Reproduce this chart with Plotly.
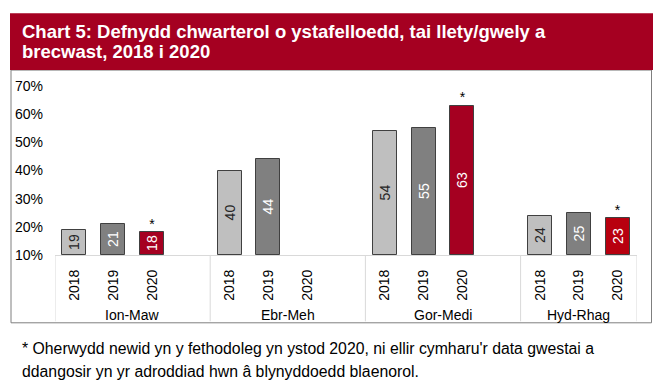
import plotly.graph_objects as go

# ---- data ----
quarters = ["Ion-Maw", "Ebr-Meh", "Gor-Medi", "Hyd-Rhag"]
years = ["2018", "2019", "2020"]
occ_2018 = [19, 40, 54, 24]
occ_2019 = [21, 44, 55, 25]
occ_2020 = [18, None, 63, 23]
flag_2020 = ["*", "", "*", "*"]
y_ticks = [10, 20, 30, 40, 50, 60, 70]

title_lines = ["Chart 5: Defnydd chwarterol o ystafelloedd, tai llety/gwely a",
               "brecwast, 2018 i 2020"]
note_lines = ["* Oherwydd newid yn y fethodoleg yn ystod 2020, ni ellir cymharu'r data gwestai a",
              "ddangosir yn yr adroddiad hwn â blynyddoedd blaenorol."]

# ---- styling ----
FONT = "Liberation Sans, Arial, sans-serif"
RED = "#A50021"
AXIS_MIN = y_ticks[0]
series = [
    (years[0], occ_2018, "#BFBFBF", "#262626"),
    (years[1], occ_2019, "#808080", "#FFFFFF"),
    (years[2], occ_2020, RED, "#FFFFFF"),
]
SLOTS = 4  # 3 years + blank gap per quarter

def pos(qi, yi):
    return qi * SLOTS + yi

fig = go.Figure()
for yi, (yr, vals, fill, tcol) in enumerate(series):
    xs = [pos(qi, yi) for qi in range(len(quarters))]
    fills = [fill] * len(vals)
    if yi == 2:
        fills[-1] = "#B8000F"
    fig.add_trace(go.Bar(
        x=xs,
        y=[None if v is None else v - AXIS_MIN for v in vals],
        base=AXIS_MIN, width=0.62, name=yr,
        marker=dict(color=fills, line=dict(color="#404040", width=1)),
        text=[("" if v is None else str(v)) for v in vals],
        textposition="inside", insidetextanchor="middle", textangle=-90,
        textfont=dict(family=FONT, size=14, color=tcol),
        showlegend=False,
    ))

# asterisks above 2020 bars
fig.add_trace(go.Scatter(
    x=[pos(qi, 2) for qi in range(len(quarters))],
    y=occ_2020,
    mode="text", text=flag_2020, textposition="top center",
    textfont=dict(family=FONT, size=14, color="#000000"),
    showlegend=False, cliponaxis=False,
))

tickvals, ticktext = [], []
for qi in range(len(quarters)):
    for yi, yr in enumerate(years):
        tickvals.append(pos(qi, yi))
        ticktext.append(yr)

x_min, x_max = -0.5, 14.5
L, R, T, B = 55, 27, 86, 135.5
W, H = 664, 391
pw = W - L - R
ph = H - T - B

def px_x(p):
    return (p - L) / pw

def px_y(p):
    return (H - B - p) / ph

shapes = []
# outer chart box
shapes.append(dict(type="rect", xref="paper", yref="paper",
                   x0=px_x(11), x1=px_x(651.5), y0=px_y(323.5), y1=px_y(70),
                   line=dict(color="#7F7F7F", width=1), fillcolor="rgba(0,0,0,0)"))
# title bar
shapes.append(dict(type="rect", xref="paper", yref="paper",
                   x0=px_x(10), x1=px_x(653), y0=px_y(70), y1=px_y(13),
                   line=dict(width=0), fillcolor=RED))
# category separators
for sx in [-0.5, 3.5, 7.5, 11.5, 14.5]:
    shapes.append(dict(type="line", xref="x", yref="paper",
                       x0=sx, x1=sx, y0=0, y1=px_y(322),
                       line=dict(color="#D9D9D9", width=1)))

annotations = []
for qi, q in enumerate(quarters):
    lo = qi * SLOTS - 0.5
    hi = min(lo + SLOTS, x_max)
    annotations.append(dict(x=(lo + hi) / 2, y=px_y(316), xref="x", yref="paper",
                            text=q, showarrow=False, xanchor="center", yanchor="middle",
                            font=dict(family=FONT, size=14, color="#000000")))
for line, yc in zip(title_lines, [31, 51]):
    annotations.append(dict(x=px_x(20), y=px_y(yc), xref="paper", yref="paper",
                            text="<b>" + line + "</b>", showarrow=False,
                            xanchor="left", yanchor="middle",
                            font=dict(family=FONT, size=18.5, color="#FFFFFF")))
for line, yc in zip(note_lines, [349, 372]):
    annotations.append(dict(x=px_x(20), y=px_y(yc), xref="paper", yref="paper",
                            text=line, showarrow=False,
                            xanchor="left", yanchor="middle",
                            font=dict(family=FONT, size=15.8, color="#000000")))

fig.update_layout(
    width=W, height=H,
    margin=dict(l=L, r=R, t=T, b=B, autoexpand=False),
    paper_bgcolor="#FFFFFF", plot_bgcolor="#FFFFFF",
    barmode="overlay", bargap=0,
    xaxis=dict(range=[x_min, x_max], tickvals=tickvals, ticktext=ticktext,
               tickangle=-90, ticks="outside", ticklen=8, tickcolor="rgba(0,0,0,0)",
               tickfont=dict(family=FONT, size=14, color="#000000"),
               showgrid=False, zeroline=False, showline=True,
               linecolor="#D9D9D9", linewidth=1, fixedrange=True),
    yaxis=dict(range=[AXIS_MIN, y_ticks[-1]], tickvals=y_ticks,
               ticktext=[f"{v}%" for v in y_ticks],
               ticks="", ticklabelstandoff=11,
               tickfont=dict(family=FONT, size=14, color="#000000"),
               showgrid=False, zeroline=False, showline=False, fixedrange=True),
    shapes=shapes, annotations=annotations,
    font=dict(family=FONT),
)

fig.write_html("out.html", config={"displayModeBar": False},
               post_script="document.body.style.margin='0';")
